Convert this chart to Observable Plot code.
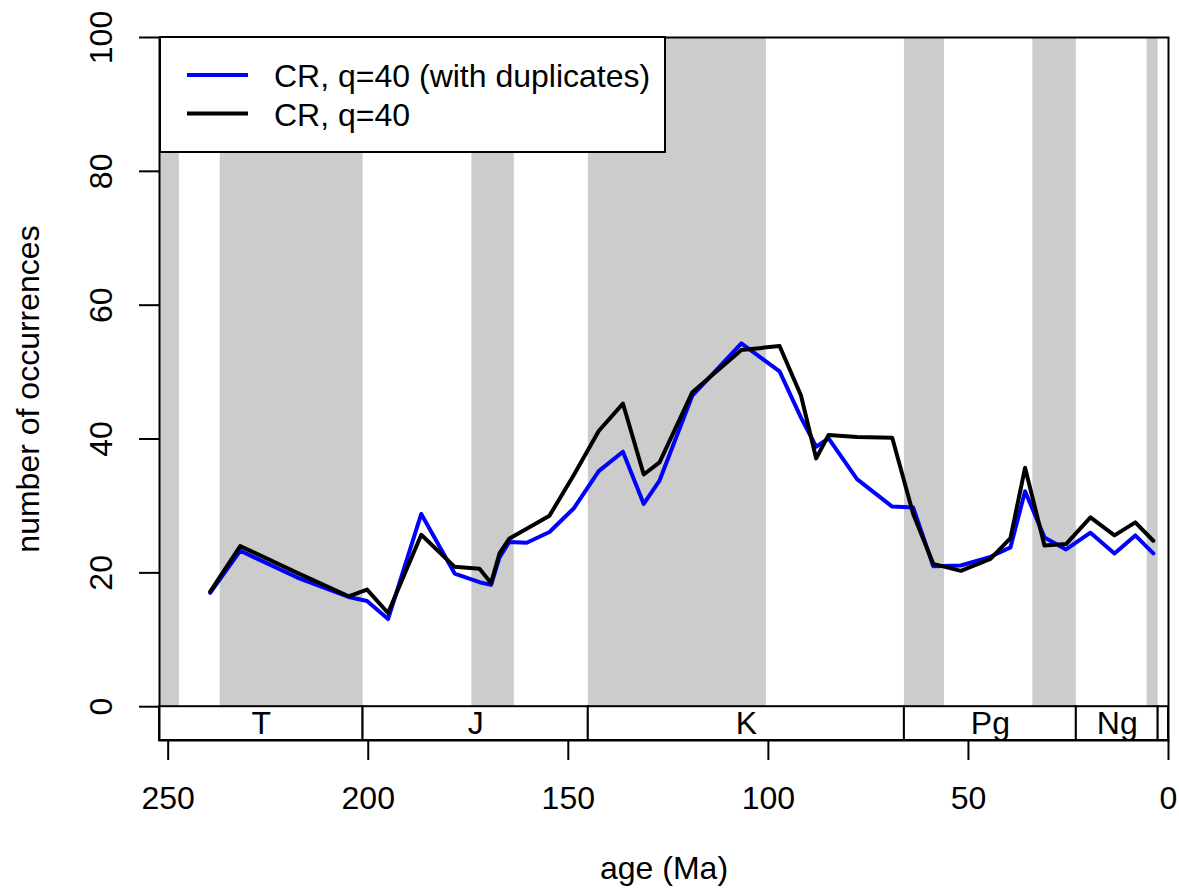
<!DOCTYPE html>
<html>
<head>
<meta charset="utf-8">
<script src="https://cdn.jsdelivr.net/npm/d3@7"></script>
<script src="https://cdn.jsdelivr.net/npm/@observablehq/plot@0.6"></script>
<style>
  body { margin: 0; background: #fff; }
  #wrap { position: relative; width: 1179px; height: 894px; font-family: "Liberation Sans", Arial, Helvetica, sans-serif; }
  #legend { position: absolute; left: 159px; top: 36px; width: 507px; height: 117px; box-sizing: border-box; border: 2px solid #000; background: #fff; }
</style>
</head>
<body>
<div id="wrap"></div>
<script>
// Stage/bin midpoints (Ma)
const ages = [239.5, 232, 217.75, 204.9, 200.3, 195.05, 186.75, 178.4, 172.2, 169.3, 167.2, 164.8, 160.4, 154.7, 148.55,
  142.4, 136.35, 131.15, 127.2, 119, 106.75, 97.2, 91.85, 88.05, 84.95, 77.85, 69.05,
  63.8, 58.8, 51.9, 44.5, 39.5, 35.85, 31, 25.6, 19.5, 13.5, 8.3, 3.8];
// CR, q=40 (with duplicates)
const dupValues = [17.0, 23.3, 19.3, 16.4, 15.8, 13.1, 28.8, 19.9, 18.6, 18.2, 22.3, 24.6, 24.5, 26.1, 29.7,
  35.2, 38.1, 30.3, 33.8, 46.5, 54.3, 50.1, 43.2, 38.85, 40.1, 34.0, 29.9,
  29.75, 21.0, 21.1, 22.4, 23.8, 32.2, 25.3, 23.5, 26.0, 22.9, 25.6, 22.9];
// CR, q=40
const cleanValues = [17.2, 24.0, 20.0, 16.5, 17.5, 14.0, 25.7, 20.9, 20.6, 18.5, 22.9, 25.1, 26.6, 28.55, 34.7,
  41.2, 45.3, 34.7, 36.5, 47.0, 53.3, 53.9, 46.5, 37.1, 40.6, 40.3, 40.2,
  28.8, 21.35, 20.3, 22.1, 25.2, 35.7, 24.1, 24.3, 28.3, 25.6, 27.55, 24.8];

// grey epoch bands
const bandStarts = [252.17, 237, 174.1, 145, 66, 33.9, 5.333];
const bandEnds   = [247.2, 201.3, 163.5, 100.5, 56, 23.03, 2.58];

// period strip
const periodNames  = ["T", "J", "K", "Pg", "Ng", ""];
const periodStarts = [252.17, 201.3, 145, 66, 23.03, 2.58];
const periodEnds   = [201.3, 145, 66, 23.03, 2.58, 0];

const xTicks = [250, 200, 150, 100, 50, 0];
const yTicks = [0, 20, 40, 60, 80, 100];
const xDomain = [252.17, 0];
const yDomain = [-5.05, 100];
const stripBottom = -5.05;

const seriesNames = ["CR, q=40 (with duplicates)", "CR, q=40"];
const seriesColors = ["blue", "black"];

const data = ages.map((a, i) => ({age: a, dup: dupValues[i], clean: cleanValues[i]}));
const bands = bandStarts.map((s, i) => ({start: s, end: bandEnds[i], lo: yTicks[0], hi: yTicks[yTicks.length - 1]}));
const periods = periodNames.map((n, i) => ({name: n, start: periodStarts[i], end: periodEnds[i], lo: stripBottom, hi: 0}));

const FONT = 32;

const chart = Plot.plot({
  width: 1179,
  height: 894,
  marginLeft: 159,
  marginRight: 11,
  marginTop: 37,
  marginBottom: 154,
  x: {domain: xDomain},
  y: {domain: yDomain},
  style: {fontFamily: "'Liberation Sans', Arial, Helvetica, sans-serif", fontSize: FONT + "px", background: "white", overflow: "visible"},
  marks: [
    Plot.rect(bands, {x1: "start", x2: "end", y1: "lo", y2: "hi", fill: "#cccccc"}),
    Plot.rect(periods, {x1: "start", x2: "end", y1: "lo", y2: "hi", fill: "white", stroke: "black", strokeWidth: 2}),
    Plot.text(periods, {x: d => (d.start + d.end) / 2, y: d => (d.lo + d.hi) / 2, text: "name", fontSize: FONT, fill: "black"}),
    Plot.line(data, {x: "age", y: "dup", stroke: seriesColors[0], strokeWidth: 4}),
    Plot.line(data, {x: "age", y: "clean", stroke: seriesColors[1], strokeWidth: 4}),
    Plot.frame({stroke: "black", strokeWidth: 2}),
    Plot.axisX(xTicks, {anchor: "bottom", tickSize: 20, tickPadding: 26, fontSize: FONT, label: null, tickFormat: d => String(d), strokeWidth: 2}),
    Plot.axisY(yTicks, {anchor: "left", tickSize: 20, tickFormat: () => "", label: null, strokeWidth: 2}),
    Plot.text(yTicks, {y: d => d, text: d => String(d), frameAnchor: "left", textAnchor: "middle", dx: -58, rotate: -90, fontSize: FONT, fill: "black"}),
    Plot.text(["number of occurrences"], {frameAnchor: "left", textAnchor: "middle", dx: -131, rotate: -90, fontSize: FONT, fill: "black"}),
    Plot.text(["age (Ma)"], {frameAnchor: "bottom", textAnchor: "middle", dy: 138, fontSize: FONT, fill: "black"})
  ]
});

const wrap = document.getElementById("wrap");
wrap.appendChild(chart);

// legend (top-left, boxed)
const legend = document.createElement("div");
legend.id = "legend";
const ns = "http://www.w3.org/2000/svg";
const lsvg = document.createElementNS(ns, "svg");
lsvg.setAttribute("width", "503");
lsvg.setAttribute("height", "113");
lsvg.style.display = "block";
seriesNames.forEach((name, i) => {
  const yc = 37 + i * 38.5;
  const ln = document.createElementNS(ns, "line");
  ln.setAttribute("x1", 26); ln.setAttribute("x2", 87);
  ln.setAttribute("y1", yc); ln.setAttribute("y2", yc);
  ln.setAttribute("stroke", seriesColors[i]);
  ln.setAttribute("stroke-width", 4);
  lsvg.appendChild(ln);
  const tx = document.createElementNS(ns, "text");
  tx.setAttribute("x", 113);
  tx.setAttribute("y", yc + 12);
  tx.setAttribute("font-size", FONT);
  tx.setAttribute("font-family", "'Liberation Sans', Arial, Helvetica, sans-serif");
  tx.setAttribute("fill", "black");
  tx.textContent = name;
  lsvg.appendChild(tx);
});
legend.appendChild(lsvg);
wrap.appendChild(legend);
</script>
</body>
</html>
